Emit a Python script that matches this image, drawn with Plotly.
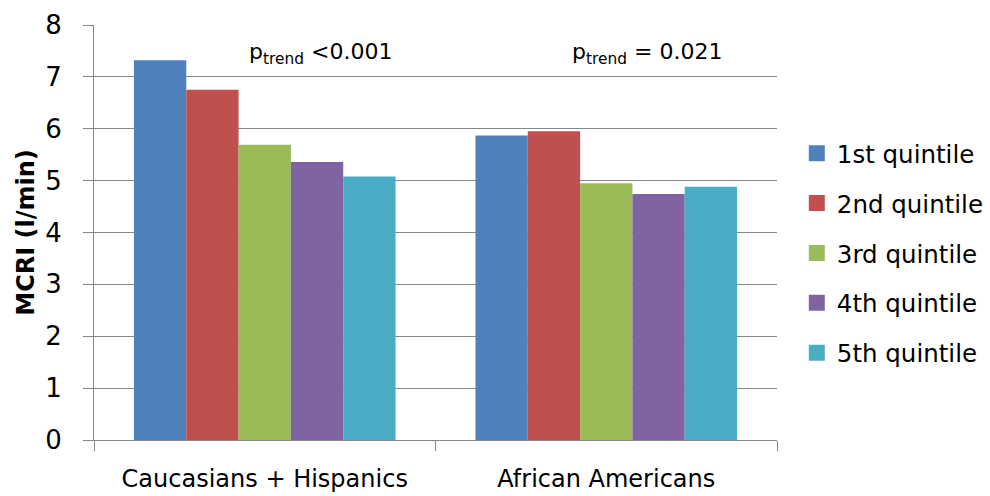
import plotly.graph_objects as go

categories = ["Caucasians + Hispanics", "African Americans"]
series_names = ["1st quintile", "2nd quintile", "3rd quintile", "4th quintile", "5th quintile"]
values = {
    "1st quintile": [7.32, 5.87],
    "2nd quintile": [6.75, 5.95],
    "3rd quintile": [5.69, 4.95],
    "4th quintile": [5.36, 4.74],
    "5th quintile": [5.08, 4.88],
}
colors = ["#4F81BD", "#C0504D", "#9BBB59", "#8064A2", "#4BACC6"]
y_ticks = [0, 1, 2, 3, 4, 5, 6, 7, 8]
annotations_text = ["p<sub>trend</sub> <0.001", "p<sub>trend</sub> = 0.021"]
annotation_x = [0.332, 0.810]

FONT = "DejaVu Sans"

fig = go.Figure()
for i, name in enumerate(series_names):
    fig.add_trace(go.Bar(
        x=categories, y=values[name], name=name,
        marker=dict(color=colors[i], line=dict(width=0)),
        showlegend=False,
    ))
# legend entries with larger square swatches
for i, name in enumerate(series_names):
    fig.add_trace(go.Scatter(
        x=[None], y=[None], mode="markers", name=name,
        marker=dict(symbol="square", size=16, color=colors[i]),
        legendgroup=name,
    ))

for ax, txt in zip(annotation_x, annotations_text):
    fig.add_annotation(x=ax, y=7.45, text=txt, showarrow=False, xref="paper", yref="y",
                       xanchor="center", yanchor="middle",
                       font=dict(family=FONT, size=22, color="#000"))

fig.update_layout(
    width=990, height=496,
    margin=dict(l=94, r=213, t=25, b=56, autoexpand=False),
    paper_bgcolor="white", plot_bgcolor="white",
    barmode="group", bargap=0.234, bargroupgap=0,
    font=dict(family=FONT, size=22, color="#000"),
    legend=dict(x=1.029, y=0.745, yanchor="top", xanchor="left",
                font=dict(family=FONT, size=24.5), tracegroupgap=15,
                itemsizing="trace", itemwidth=30),
    showlegend=True,
)
fig.update_xaxes(showline=True, linecolor="#868686", linewidth=1,
                 ticks="outside", ticklen=10, tickcolor="#868686",
                 tickson="boundaries", tickfont=dict(family=FONT, size=24),
                 ticklabelstandoff=17, automargin=False)
fig.update_yaxes(range=[0, 8], tickvals=y_ticks, showgrid=True, gridcolor="#868686",
                 gridwidth=1, showline=True, linecolor="#868686", linewidth=1,
                 ticks="outside", ticklen=10, tickcolor="#868686",
                 tickfont=dict(family=FONT, size=26), zeroline=False, automargin=False,
                 ticklabelstandoff=16,
                 title=dict(text="<b>MCRI (l/min)</b>", font=dict(family=FONT, size=24), standoff=3))

fig.write_html("out.html", post_script="document.body.style.margin='0';",
               config={"displayModeBar": False})
